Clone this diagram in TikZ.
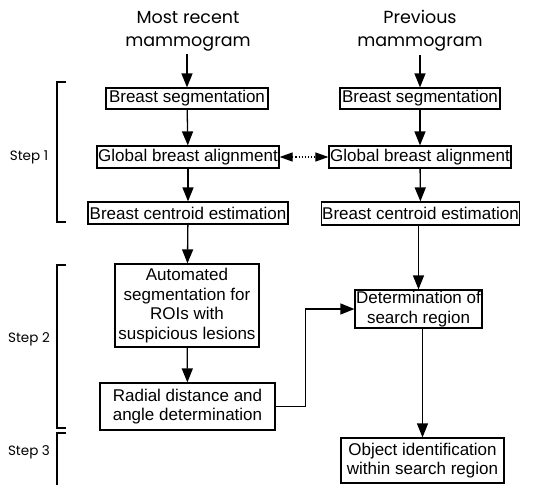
\documentclass[tikz,border=0pt]{standalone}
\usepackage{fontspec}
\setmainfont{Liberation Sans}
\newfontfamily\titlefont{Poppins}
\usetikzlibrary{positioning,arrows.meta}

\tikzset{
  procbox/.style={draw, line width=1.2pt, align=center, inner sep=1pt,
    font=\fontsize{17}{19.5}\selectfont},
  headtext/.style={font=\titlefont\fontsize{17.5}{23}\selectfont, align=center},
  steptext/.style={font=\titlefont\fontsize{13.5}{16}\selectfont},
  flow/.style={line width=1.3pt, -{Triangle[length=14pt,width=11pt]}},
}

\begin{document}
\begin{tikzpicture}[x=1pt, y=-1pt]
\useasboundingbox (0,0) rectangle (548,485);

% Inputs
\node[headtext] (recent) at (188,31) {Most recent\\mammogram};
\node[headtext] (previous) at (420,31) {Previous\\mammogram};

% Step 1 (most recent)
\node[procbox, minimum width=162pt, minimum height=21pt] (lseg) at (187,98.5) {Breast segmentation};
\node[procbox, minimum width=182pt, minimum height=22pt] (lalign) at (188,157) {Global breast alignment};
\node[procbox, minimum width=200pt, minimum height=22pt] (lcent) at (188,213) {Breast centroid estimation};

% Step 1 (previous)
\node[procbox, minimum width=160pt, minimum height=21pt] (rseg) at (420,98.5) {Breast segmentation};
\node[procbox, minimum width=182pt, minimum height=22pt] (ralign) at (420,157) {Global breast alignment};
\node[procbox, minimum width=191pt, minimum height=23pt] (rcent) at (420.5,213.5) {Breast centroid estimation};

% Step 2
\node[procbox, minimum width=144pt, minimum height=83pt] (roi) at (187,305.5) {Automated\\segmentation for\\ROIs with\\suspicious lesions};
\node[procbox, minimum width=175pt, minimum height=47pt] (radial) at (187.5,406.5) {Radial distance and\\angle determination};
\node[procbox, minimum width=127pt, minimum height=38pt] (search) at (418.5,309) {Determination of\\search region};

% Step 3
\node[procbox, minimum width=163pt, minimum height=45pt] (ident) at (422.5,460.5) {Object identification\\within search region};

% Flow
\draw[flow] (recent.south -| lseg.north) -- (lseg);
\draw[flow] (previous.south -| rseg.north) -- (rseg);
\draw[flow] (lseg) -- (lalign);
\draw[flow] (lalign) -- (lcent);
\draw[flow] (rseg) -- (ralign);
\draw[flow] (ralign) -- (rcent);
\draw[flow] (lcent) -- (roi);
\draw[flow] (roi) -- (radial);
\draw[flow] (rcent.south -| search.north) -- (search);
\draw[flow] (search.south -| ident.north) -- (ident);
\draw[flow] (radial.east) -- ++(30,0) |- (search.west);
\draw[line width=1.1pt, dotted, {Triangle[length=13pt,width=9pt]}-{Triangle[length=13pt,width=9pt]}] (lalign) -- (ralign);

% Step brackets
\draw[line width=1.1pt] (66,82) -- (57,82) -- (57,222) -- (66,222);
\draw[line width=1.1pt] (66,265) -- (57,265) -- (57,428) -- (66,428);
\draw[line width=1.1pt] (66,433) -- (57,433) -- (57,485);
\node[steptext] (step1) at (29,157) {Step 1};
\node[steptext] (step2) at (29,339) {Step 2};
\node[steptext] (step3) at (29,452) {Step 3};
\end{tikzpicture}
\end{document}
